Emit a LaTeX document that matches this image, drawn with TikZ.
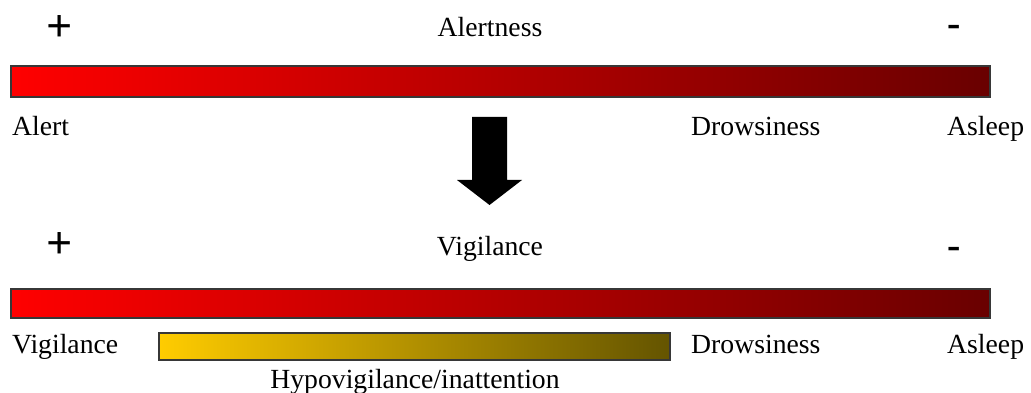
\documentclass[tikz,border=0pt]{standalone}
\usepackage{fontspec}
\setmainfont{Liberation Serif}
\definecolor{barred}{RGB}{255,0,0}
\definecolor{barmid}{RGB}{195,0,0}
\definecolor{bardark}{RGB}{105,0,0}
\definecolor{baryel}{RGB}{255,204,0}
\definecolor{barolive}{RGB}{100,84,0}
\definecolor{barframe}{RGB}{55,55,55}
\begin{document}
\begin{tikzpicture}[x=1pt,y=-1pt,
  lbl/.style={inner sep=0pt,font=\fontsize{27.7}{30}\selectfont},
  sign/.style={inner sep=0pt,font=\fontsize{40}{44}\selectfont\bfseries},
  plussign/.style={inner sep=0pt,font=\fontsize{46}{50}\selectfont\bfseries},
  redbar/.style={draw=barframe,line width=1.3pt,left color=barred,middle color=barmid,right color=bardark},
  yelbar/.style={draw=barframe,line width=1.3pt,left color=baryel,right color=barolive}]
\useasboundingbox (0,0) rectangle (1031,393);
% top scale
\node[plussign,anchor=base] (p1) at (60,41.5) {+};
\node[lbl,anchor=base] (t1) at (490,37) {Alertness};
\node[sign,anchor=base] (m1) at (954,37) {-};
\path[redbar] (11,66) rectangle (990,97);
\node[lbl,anchor=base west] (alert) at (12,136) {Alert};
\node[lbl,anchor=base west] (drow1) at (691,136) {Drowsiness};
\node[lbl,anchor=base west] (asl1) at (947,136) {Asleep};
% block arrow
\fill[black] (472,117) -- (507,117) -- (507,180) -- (522,180) -- (489.5,205)
  -- (457,180) -- (472,180) -- cycle;
% bottom scale
\node[plussign,anchor=base] (p2) at (60,258.5) {+};
\node[lbl,anchor=base] (t2) at (490,255) {Vigilance};
\node[sign,anchor=base] (m2) at (954,258) {-};
\path[redbar] (11,289) rectangle (990,318);
\node[lbl,anchor=base west] (vig) at (12,353) {Vigilance};
\path[yelbar] (159,333) rectangle (670,360);
\node[lbl,anchor=base west] (drow2) at (691,353) {Drowsiness};
\node[lbl,anchor=base west] (asl2) at (947,353) {Asleep};
\node[lbl,anchor=base] (hypo) at (415,388) {Hypovigilance/inattention};
\end{tikzpicture}
\end{document}
